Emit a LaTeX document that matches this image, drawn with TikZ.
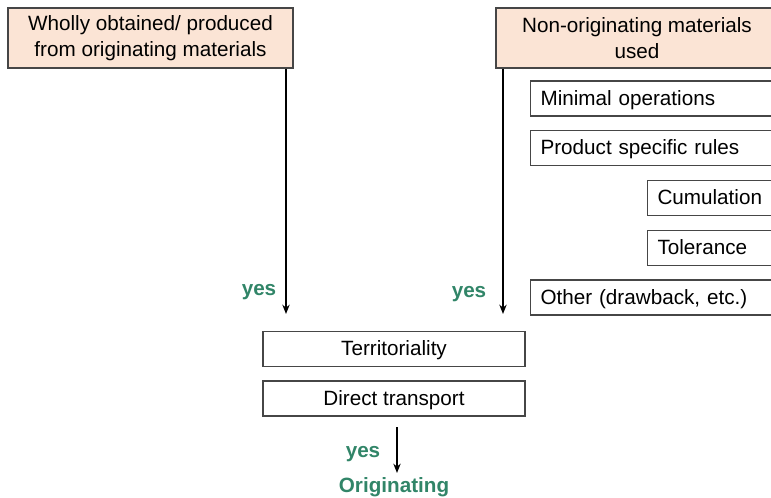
\documentclass[tikz,border=0pt]{standalone}
\usepackage{fontspec}
\setmainfont{Liberation Sans}
\usetikzlibrary{arrows.meta}

\definecolor{peach}{RGB}{251,228,213}
\definecolor{yesgreen}{RGB}{49,133,104}
\definecolor{boxgray}{RGB}{70,70,70}

\tikzset{
  topbox/.style={draw=boxgray, fill=peach, line width=0.8pt, align=center, inner sep=0pt},
  rulebox/.style={draw=boxgray, line width=0.8pt, minimum height=26.25pt, inner xsep=7.5pt, inner ysep=0pt, text height=11pt, text depth=1pt, align=left},
  flowarrow/.style={line width=1.1pt, -{Stealth[length=7pt,width=5.5pt]}},
  yeslabel/.style={text=yesgreen, font=\bfseries\fontsize{15.5}{18}\selectfont, inner sep=0.75pt}
}

\begin{document}
\begin{tikzpicture}[x=0.75pt,y=0.75pt,yscale=-1,xscale=1,font=\fontsize{15.5}{19.5}\selectfont]
\useasboundingbox (0,0) rectangle (771,497);
\clip (0,0) rectangle (771,497);

% Top boxes
\node [topbox, minimum width=213.75pt, minimum height=45pt] (wholly) at (150.5,38) {Wholly obtained/ produced\\from originating materials};
\node [topbox, minimum width=211.5pt, minimum height=45pt] (nonorig) at (637,38) {Non-originating materials\\used};

% Rule boxes on the right
\node [rulebox, anchor=west, text width=200pt] (minimal) at (530,98.5) {Minimal operations};
\node [rulebox, anchor=west, text width=200pt] (psr) at (530,148) {Product specific rules};
\node [rulebox, anchor=west, text width=150pt] (cumul) at (647,198) {Cumulation};
\node [rulebox, anchor=west, text width=150pt] (toler) at (647,248) {Tolerance};
\node [rulebox, anchor=west, text width=200pt] (other) at (530,297.5) {Other (drawback, etc.)};

% Common conditions
\node [rulebox, minimum width=196.5pt, inner xsep=0pt, align=center] (territ) at (394,349) {Territoriality};
\node [rulebox, minimum width=196.5pt, inner xsep=0pt, align=center] (direct) at (394,398.5) {Direct transport};

% Arrows
\coordinate (lefttip) at (286,314);
\coordinate (righttip) at (503,314);
\coordinate (downstart) at (397,427);
\coordinate (downtip) at (397,473);
\draw [flowarrow] (wholly.south -| lefttip) -- (lefttip);
\draw [flowarrow] (nonorig.south -| righttip) -- (righttip);
\draw [flowarrow] (downstart) -- (downtip);

% Text Node
\node [yeslabel] (yesleft) at (259,292) {yes};
% Text Node
\node [yeslabel] (yesright) at (469,294) {yes};
% Text Node
\node [yeslabel] (yesdown) at (363,454) {yes};
% Text Node
\node [yeslabel] (orig) at (394,487) {Originating};

\end{tikzpicture}
\end{document}
